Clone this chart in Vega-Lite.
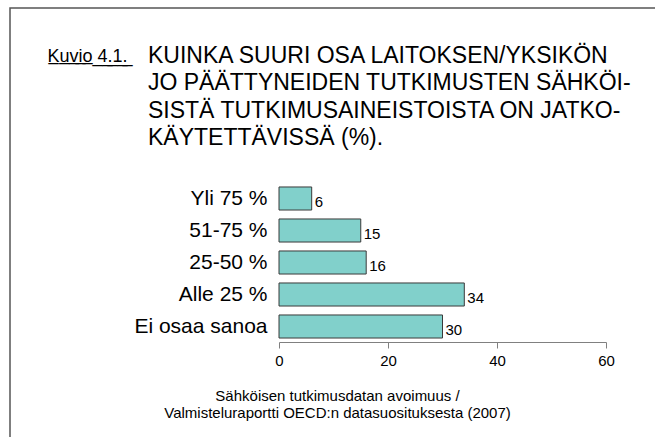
{
  "$schema": "https://vega.github.io/schema/vega-lite/v6.json",
  "width": 648,
  "height": 432,
  "padding": {"left": 10, "top": 8, "right": -3, "bottom": -3},
  "background": "white",
  "title": {
    "text": ["KUINKA SUURI OSA LAITOKSEN/YKSIKÖN", "JO PÄÄTTYNEIDEN TUTKIMUSTEN SÄHKÖI-", "SISTÄ TUTKIMUSAINEISTOISTA ON JATKO-", "KÄYTETTÄVISSÄ (%)."],
    "anchor": "start",
    "frame": "group",
    "orient": "top",
    "offset": -160,
    "dx": 138,
    "baseline": "alphabetic",
    "font": "Liberation Sans",
    "fontSize": 23,
    "fontWeight": "normal",
    "lineHeight": 27.3,
    "color": "black"
  },
  "data": {
    "values": [
      {"category": "Yli 75 %", "value": 6},
      {"category": "51-75 %", "value": 15},
      {"category": "25-50 %", "value": 16},
      {"category": "Alle 25 %", "value": 34},
      {"category": "Ei osaa sanoa", "value": 30}
    ]
  },
  "encoding": {
    "y": {
      "field": "category",
      "type": "nominal",
      "sort": null,
      "scale": {"range": [174.5, 334.5], "paddingInner": 0.28, "paddingOuter": 0.14},
      "axis": {
        "title": "K̲u̲v̲i̲o̲ ̲4̲.̲1̲.̲",
        "orient": "left",
        "offset": -269,
        "domain": false,
        "ticks": false,
        "tickSize": 0,
        "grid": false,
        "labelPadding": 12,
        "labelFont": "Liberation Sans",
        "labelFontSize": 21,
        "labelColor": "black",
        "labelLimit": 0,
        "titleAngle": 0,
        "titleX": -232,
        "titleY": 53,
        "titleAlign": "left",
        "titleBaseline": "alphabetic",
        "titleFont": "Liberation Sans",
        "titleFontSize": 18,
        "titleFontWeight": "normal",
        "titleColor": "black"
      }
    },
    "x": {
      "field": "value",
      "type": "quantitative",
      "scale": {"domain": [0, 60], "range": [269, 596]},
      "axis": {
        "title": ["Sähköisen tutkimusdatan avoimuus /", "Valmisteluraportti OECD:n datasuosituksesta (2007)"],
        "offset": -98,
        "values": [0, 20, 40, 60],
        "grid": false,
        "domainColor": "#808080",
        "tickColor": "#808080",
        "tickSize": 6,
        "labelPadding": 5,
        "labelFont": "Liberation Sans",
        "labelFontSize": 15,
        "labelColor": "black",
        "labelFlush": false,
        "titleX": 327,
        "titleY": 58,
        "titleAlign": "center",
        "titleBaseline": "alphabetic",
        "titleFont": "Liberation Sans",
        "titleFontSize": 15,
        "titleFontWeight": "normal",
        "titleColor": "black",
        "titleLineHeight": 17
      }
    }
  },
  "layer": [
    {
      "mark": {"type": "bar", "fill": "#81D0CB", "stroke": "#3a3a3a", "strokeWidth": 1}
    },
    {
      "mark": {"type": "text", "align": "left", "baseline": "middle", "dx": 3, "dy": 3, "font": "Liberation Sans", "fontSize": 15, "color": "black"},
      "encoding": {"text": {"field": "value", "type": "quantitative"}}
    }
  ],
  "config": {"view": {"stroke": "#555555", "strokeWidth": 1.5}}
}
